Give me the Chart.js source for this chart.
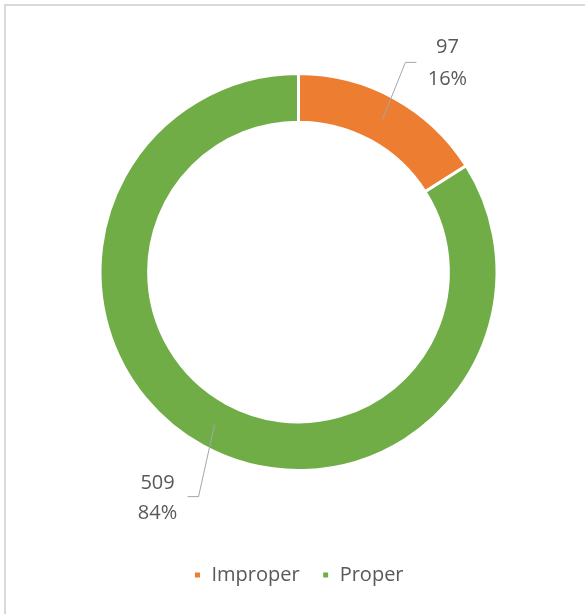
<!DOCTYPE html>
<html>
<head>
<meta charset="utf-8">
<script src="https://cdn.jsdelivr.net/npm/chart.js@4.4.1/dist/chart.umd.min.js"></script>
<style>
  html, body { margin: 0; padding: 0; background: #fff; overflow: hidden; }
  #wrap { position: relative; width: 585px; height: 614px; overflow: hidden; }
  #frame { position: absolute; left: 4px; top: 4px; width: 800px; height: 800px; border: 2px solid #d9d9d9; box-sizing: border-box; }
  #chart { position: absolute; left: 0; top: 0; }
</style>
</head>
<body>
<div id="wrap">
  <div id="frame"></div>
  <canvas id="chart" width="585" height="614"></canvas>
</div>
<script>
const labels = ['Improper', 'Proper'];
const counts = [97, 509];
const shares = ['16%', '84%'];
const colors = ['#ed7d31', '#70ad47'];

// leader line + two-line label for each slice
const leaderLabels = {
  id: 'leaderLabels',
  afterDatasetsDraw(chart) {
    const ctx = chart.ctx;
    const meta = chart.getDatasetMeta(0);
    ctx.save();
    ctx.font = '20px "Open Sans"';
    ctx.fillStyle = '#595959';
    ctx.textAlign = 'center';
    ctx.textBaseline = 'middle';
    ctx.strokeStyle = '#a6a6a6';
    ctx.lineWidth = 1;
    meta.data.forEach((arc, i) => {
      const p = arc.tooltipPosition();
      const right = i === 0;
      const elbow = right ? { x: p.x + 23, y: p.y - 57 } : { x: p.x - 16, y: p.y + 72 };
      const end = { x: elbow.x + (right ? 11 : -11), y: elbow.y };
      ctx.beginPath();
      ctx.moveTo(p.x, p.y);
      ctx.lineTo(elbow.x, elbow.y);
      ctx.lineTo(end.x, end.y);
      ctx.stroke();
      const tx = right ? elbow.x + 42 : elbow.x - 41;
      const ty = right ? elbow.y - 15 : elbow.y - 13;
      ctx.fillText(String(counts[i]), tx, ty);
      ctx.fillText(shares[i], tx, ty + (right ? 32 : 30));
    });
    ctx.restore();
  }
};

new Chart(document.getElementById('chart'), {
  type: 'doughnut',
  data: {
    labels: labels,
    datasets: [{
      data: counts,
      backgroundColor: colors,
      borderColor: '#ffffff',
      borderWidth: 3,
      hoverOffset: 0
    }]
  },
  options: {
    responsive: false,
    animation: false,
    cutout: '75.5%',
    layout: { padding: { top: 72, bottom: 19, left: 12, right: 0 } },
    plugins: {
      title: { display: false },
      tooltip: { enabled: false },
      legend: {
        position: 'bottom',
        title: { display: true, text: ' ', font: { size: 10 }, padding: { top: 59, bottom: 0 } },
        labels: {
          boxWidth: 8,
          boxHeight: 8,
          padding: 22,
          color: '#595959',
          font: { family: '"Open Sans"', size: 20 }
        }
      }
    }
  },
  plugins: [leaderLabels]
});
</script>
</body>
</html>
